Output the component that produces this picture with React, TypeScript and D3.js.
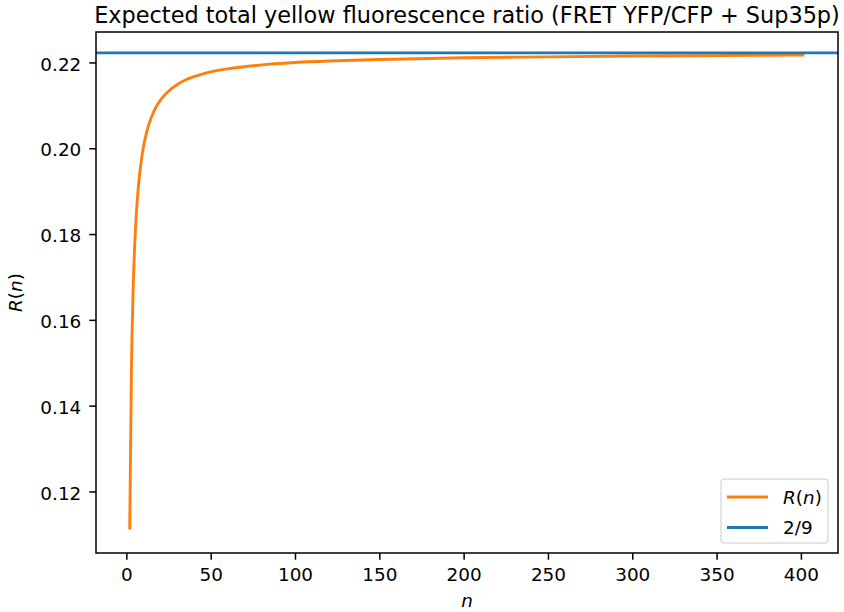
import React, { useRef, useEffect } from "react";
import * as d3 from "d3";

// values
const nValues = [2, 3, 4, 5, 6, 7, 8, 9, 10, 11, 12, 13, 14, 15, 16, 18, 20, 22, 25, 30, 35, 40, 45, 50, 60, 70, 85, 100, 125, 150, 200, 250, 300, 350, 402];
const rValues = [0.1111, 0.1481, 0.1667, 0.1778, 0.1852, 0.1905, 0.1944, 0.1975, 0.2, 0.202, 0.2037, 0.2051, 0.2063, 0.2074, 0.2083, 0.2099, 0.2111, 0.2121, 0.2133, 0.2148, 0.2159, 0.2167, 0.2173, 0.2178, 0.2185, 0.219, 0.2196, 0.22, 0.2204, 0.2207, 0.2211, 0.2213, 0.2215, 0.2216, 0.2217];
const limitValue = 2 / 9;
const xTicks = [0, 50, 100, 150, 200, 250, 300, 350, 400];
const yTicks = [0.12, 0.14, 0.16, 0.18, 0.2, 0.22];
const seriesNames = ["R(n)", "2/9"];
const seriesColors = ["#ff7f0e", "#1f77b4"];

export default function App() {
  const svgRef = useRef<SVGSVGElement>(null);

  useEffect(() => {
    const svg = d3.select(svgRef.current);
    svg.selectAll("*").remove();
    const width = 844,
      height = 612;
    const left = 96,
      right = 838,
      top = 32,
      bottom = 553;
    const font = "DejaVu Sans, sans-serif";
    const fs = 18.4;

    const x = d3.scaleLinear().domain([-18, 422]).range([left, right]);
    const y = d3.scaleLinear().domain([0.10565, 0.2271]).range([bottom, top]);

    svg.append("rect").attr("width", width).attr("height", height).attr("fill", "white");

    const g = svg.append("g");
    g.append("defs")
      .append("clipPath")
      .attr("id", "plotclip")
      .append("rect")
      .attr("x", left)
      .attr("y", top)
      .attr("width", right - left)
      .attr("height", bottom - top);

    const data = nValues.map((n, i) => ({ n, r: rValues[i] }));
    const line = d3
      .line<{ n: number; r: number }>()
      .x((d) => x(d.n))
      .y((d) => y(d.r))
      .curve(d3.curveMonotoneX);

    g.append("path")
      .datum(data)
      .attr("clip-path", "url(#plotclip)")
      .attr("fill", "none")
      .attr("stroke", seriesColors[0])
      .attr("stroke-width", 2.9)
      .attr("d", line);

    g.append("line")
      .attr("x1", left)
      .attr("x2", right)
      .attr("y1", y(limitValue))
      .attr("y2", y(limitValue))
      .attr("stroke", seriesColors[1])
      .attr("stroke-width", 2.9);

    // axes
    const xAxis = g
      .append("g")
      .attr("transform", `translate(0,${bottom})`)
      .call(d3.axisBottom(x).tickValues(xTicks).tickSize(6.7).tickPadding(8).tickFormat(d3.format("d")));
    const yAxis = g
      .append("g")
      .attr("transform", `translate(${left},0)`)
      .call(d3.axisLeft(y).tickValues(yTicks).tickSize(6.7).tickPadding(8).tickFormat(d3.format(".2f")));
    [xAxis, yAxis].forEach((a) => {
      a.select(".domain").remove();
      a.selectAll("line").attr("stroke", "#000").attr("stroke-width", 1.5);
      a.selectAll("text").attr("font-family", font).attr("font-size", fs).attr("fill", "#000");
    });
    yAxis.selectAll("text").attr("dy", "0.42em");

    g.append("rect")
      .attr("x", left)
      .attr("y", top)
      .attr("width", right - left)
      .attr("height", bottom - top)
      .attr("fill", "none")
      .attr("stroke", "#000")
      .attr("stroke-width", 1.5);

    // title and labels
    svg.append("text")
      .attr("x", (left + right) / 2)
      .attr("y", 23)
      .attr("text-anchor", "middle")
      .attr("font-family", font)
      .attr("font-size", 22.4)
      .text("Expected total yellow fluorescence ratio (FRET YFP/CFP + Sup35p)");

    svg.append("text")
      .attr("x", (left + right) / 2)
      .attr("y", 607)
      .attr("text-anchor", "middle")
      .attr("font-family", font)
      .attr("font-size", fs)
      .attr("font-style", "italic")
      .text("n");

    const yl = svg
      .append("text")
      .attr("transform", `translate(22,${(top + bottom) / 2}) rotate(-90)`)
      .attr("text-anchor", "middle")
      .attr("font-family", font)
      .attr("font-size", fs);
    yl.append("tspan").attr("font-style", "italic").text("R");
    yl.append("tspan").text("(");
    yl.append("tspan").attr("font-style", "italic").text("n");
    yl.append("tspan").text(")");

    // legend
    const lg = svg.append("g");
    lg.append("rect")
      .attr("x", 721)
      .attr("y", 479)
      .attr("width", 107)
      .attr("height", 64)
      .attr("rx", 3)
      .attr("fill", "white")
      .attr("fill-opacity", 0.8)
      .attr("stroke", "#cccccc");
    seriesNames.forEach((name, i) => {
      const ly = 497 + i * 30.5;
      lg.append("line")
        .attr("x1", 727)
        .attr("x2", 768)
        .attr("y1", ly)
        .attr("y2", ly)
        .attr("stroke", seriesColors[i])
        .attr("stroke-width", 2.9);
      const t = lg
        .append("text")
        .attr("x", 783)
        .attr("y", ly + 6.5)
        .attr("font-family", font)
        .attr("font-size", fs);
      if (i === 0) {
        t.append("tspan").attr("font-style", "italic").text("R");
        t.append("tspan").text("(");
        t.append("tspan").attr("font-style", "italic").text("n");
        t.append("tspan").text(")");
      } else {
        t.text(name);
      }
    });
  }, []);

  return (
    <svg
      ref={svgRef}
      width={844}
      height={612}
      style={{ position: "absolute", left: 0, top: 0 }}
    ></svg>
  );
}
